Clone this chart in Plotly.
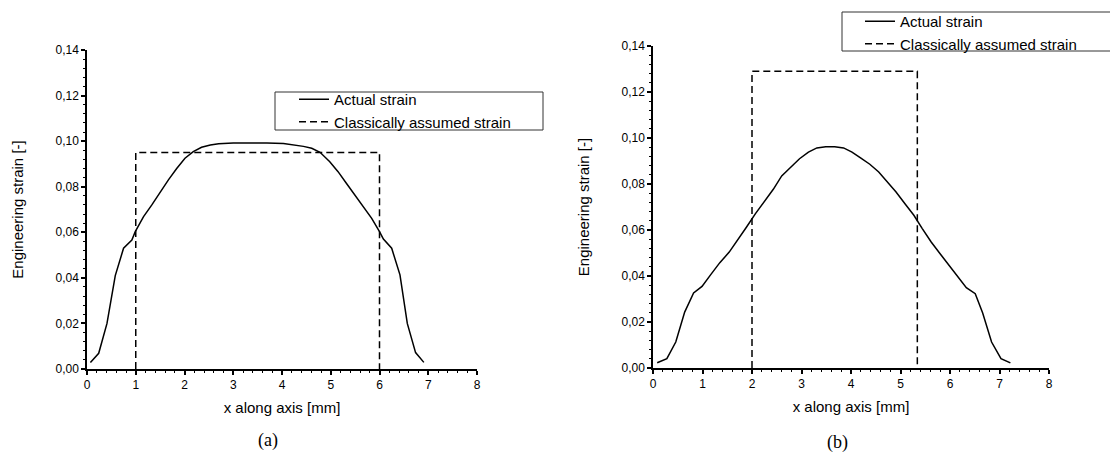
import plotly.graph_objects as go

# ---- data ----
x_actual_a = [0.07, 0.24, 0.41, 0.58, 0.75, 0.92, 0.99, 1.16, 1.33, 1.50, 1.67, 1.84, 2.01,
              2.18, 2.35, 2.53, 2.70, 3.00, 3.35, 3.69, 4.03, 4.23, 4.44, 4.61, 4.78, 4.98,
              5.15, 5.32, 5.49, 5.67, 5.84, 6.00, 6.08, 6.25, 6.42, 6.57, 6.74, 6.91]
y_actual_a = [0.0028, 0.0069, 0.0200, 0.0410, 0.0530, 0.0566, 0.0603, 0.0669, 0.0720, 0.0778,
              0.0830, 0.0880, 0.0925, 0.0954, 0.0973, 0.0983, 0.0989, 0.0992, 0.0993, 0.0992,
              0.0990, 0.0985, 0.0977, 0.0969, 0.0951, 0.0910, 0.0866, 0.0815, 0.0764, 0.0713,
              0.0661, 0.0603, 0.0570, 0.0530, 0.0413, 0.0200, 0.0072, 0.0029]
x_classic_a = [1.0, 1.0, 6.0, 6.0]
y_classic_a = [0.0, 0.095, 0.095, 0.0]

x_actual_b = [0.085, 0.28, 0.46, 0.64, 0.82, 0.99, 1.17, 1.35, 1.54, 1.72, 1.89, 2.07, 2.25,
              2.43, 2.60, 2.78, 2.96, 3.14, 3.31, 3.49, 3.67, 3.85, 4.02, 4.20, 4.38, 4.56,
              4.73, 4.91, 5.09, 5.27, 5.44, 5.62, 5.80, 5.98, 6.15, 6.33, 6.51, 6.66, 6.84,
              7.03, 7.22]
y_actual_b = [0.0023, 0.0041, 0.0113, 0.0243, 0.0326, 0.0355, 0.0407, 0.0458, 0.0504, 0.0558,
              0.0613, 0.0671, 0.0725, 0.0777, 0.0835, 0.0874, 0.0910, 0.0939, 0.0957, 0.0962,
              0.0962, 0.0957, 0.0939, 0.0913, 0.0886, 0.0852, 0.0809, 0.0765, 0.0714, 0.0664,
              0.0606, 0.0548, 0.0497, 0.0446, 0.0396, 0.0349, 0.0323, 0.0239, 0.0113, 0.0041,
              0.0022]
x_classic_b = [2.0, 2.0, 5.34, 5.34]
y_classic_b = [0.0, 0.129, 0.129, 0.0]

x_ticks = [0, 1, 2, 3, 4, 5, 6, 7, 8]
y_ticks = [0.00, 0.02, 0.04, 0.06, 0.08, 0.10, 0.12, 0.14]
series_names = ["Actual strain", "Classically assumed strain"]
captions = ["(a)", "(b)"]

W, H = 1110, 460
FONT = "Liberation Sans"

fig = go.Figure()
line_solid = dict(color="black", width=1.5)
line_dash = dict(color="black", width=1.5, dash="7px,4px")

fig.add_trace(go.Scatter(x=x_actual_a, y=y_actual_a, mode="lines", line=line_solid,
                         name=series_names[0], xaxis="x", yaxis="y", legend="legend"))
fig.add_trace(go.Scatter(x=x_classic_a, y=y_classic_a, mode="lines", line=line_dash,
                         name=series_names[1], xaxis="x", yaxis="y", legend="legend"))
fig.add_trace(go.Scatter(x=x_actual_b, y=y_actual_b, mode="lines", line=line_solid,
                         name=series_names[0], xaxis="x2", yaxis="y2", legend="legend2"))
fig.add_trace(go.Scatter(x=x_classic_b, y=y_classic_b, mode="lines", line=line_dash,
                         name=series_names[1], xaxis="x2", yaxis="y2", legend="legend2"))


def px_x(p):
    return p / W


def px_y(p):
    return 1 - p / H


def xaxis_style(domain, anchor):
    return dict(domain=domain, anchor=anchor, range=[0, 8], tickvals=x_ticks,
                showline=True, linecolor="black", linewidth=1.5, mirror=False,
                showgrid=False, zeroline=False, ticks="outside", ticklen=4, tickwidth=1.5,
                tickcolor="black", tickfont=dict(family=FONT, size=12, color="black"),
                minor=dict(dtick=0.2, ticks="outside", ticklen=2.5, tickwidth=1,
                           tickcolor="black", showgrid=False),
                title=dict(text="x along axis [mm]", font=dict(family=FONT, size=15, color="black"),
                           standoff=11),
                automargin=False)


def yaxis_style(domain, anchor):
    return dict(domain=domain, anchor=anchor, range=[0, 0.14], tickvals=y_ticks,
                tickformat=".2f", showline=True, linecolor="black", linewidth=1.5,
                showgrid=False, zeroline=False, ticks="outside", ticklen=4, tickwidth=1.5,
                tickcolor="black", tickfont=dict(family=FONT, size=12, color="black"),
                minor=dict(dtick=0.004, ticks="outside", ticklen=2.5, tickwidth=1,
                           tickcolor="black", showgrid=False),
                title=dict(text="Engineering strain [-]", font=dict(family=FONT, size=15, color="black"),
                           standoff=28),
                automargin=False)


legend_common = dict(bgcolor="rgba(0,0,0,0)", borderwidth=0,
                     font=dict(family=FONT, size=15, color="black"),
                     xanchor="left", yanchor="top", tracegroupgap=0,
                     itemclick=False, itemdoubleclick=False)

# legend frames (decoration only)
frame_style = dict(type="rect", xref="paper", yref="paper",
                   line=dict(color="#333333", width=1), fillcolor="white", layer="below")
shapes = [
    dict(x0=px_x(275), x1=px_x(543), y0=px_y(130), y1=px_y(92), **frame_style),
    dict(x0=px_x(842), x1=px_x(1114), y0=px_y(51), y1=px_y(12), **frame_style),
]

fig.update_layout(
    width=W, height=H,
    margin=dict(l=0, r=0, t=0, b=0, autoexpand=False),
    paper_bgcolor="white", plot_bgcolor="rgba(0,0,0,0)",
    separators=",.",
    showlegend=True,
    hovermode=False,
    xaxis=xaxis_style([px_x(87), px_x(477)], "y"),
    yaxis=yaxis_style([px_y(369), px_y(50)], "x"),
    xaxis2=xaxis_style([px_x(653), px_x(1049)], "y2"),
    yaxis2=yaxis_style([px_y(368), px_y(46)], "x2"),
    legend=dict(x=px_x(294), y=px_y(83), **legend_common),
    legend2=dict(x=px_x(860), y=px_y(5), **legend_common),
    shapes=shapes,
    annotations=[
        dict(text=captions[0], x=px_x(268), y=px_y(440), xref="paper", yref="paper",
             showarrow=False, xanchor="center", yanchor="middle",
             font=dict(family="Liberation Serif, serif", size=18, color="black")),
        dict(text=captions[1], x=px_x(837), y=px_y(442), xref="paper", yref="paper",
             showarrow=False, xanchor="center", yanchor="middle",
             font=dict(family="Liberation Serif, serif", size=18, color="black")),
    ],
)

fig.write_html("out.html",
               config={"displayModeBar": False, "staticPlot": False},
               post_script="document.body.style.margin='0px';document.body.style.overflow='hidden';")
